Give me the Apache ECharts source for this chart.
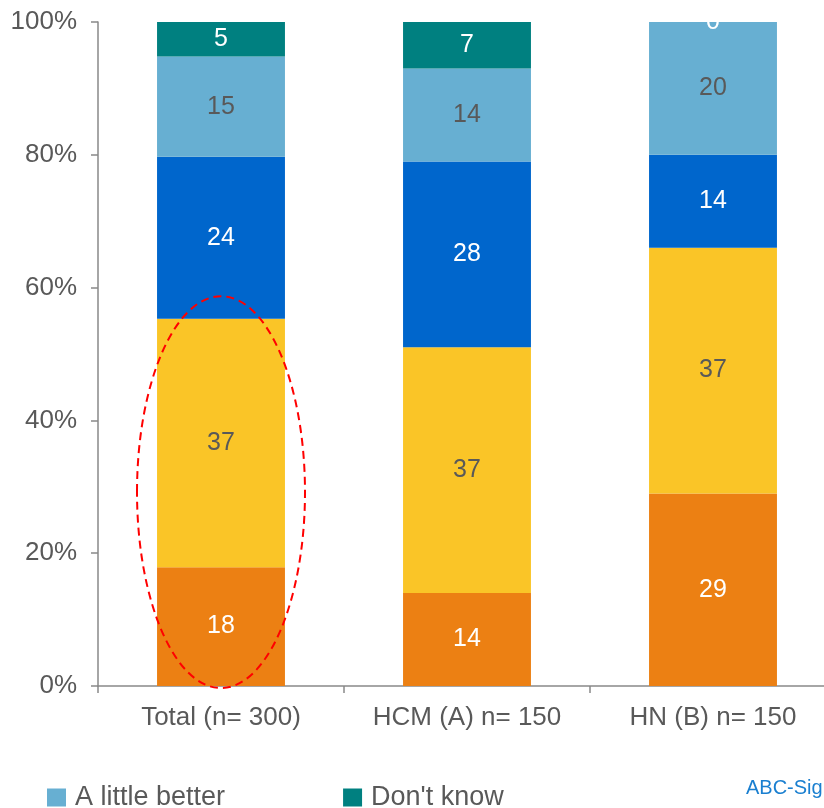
<!DOCTYPE html>
<html>
<head>
<meta charset="utf-8">
<script src="https://cdn.jsdelivr.net/npm/echarts@6/dist/echarts.min.js"></script>
<style>
  html, body { margin: 0; padding: 0; background: #fff; }
  #chart { width: 824px; height: 808px; }
</style>
</head>
<body>
<div id="chart"></div>
<script>
const categories = ['Total (n= 300)', 'HCM (A) n= 150', 'HN (B) n= 150'];

// bottom to top (percent of each bar)
const worse = [17.9, 14, 29];
const same = [37.4, 37, 37];
const muchBetter = [24.4, 28, 14];
const littleBetter = [15.1, 14, 20];
const dontKnow = [5.2, 7, 0];

const yTicks = [0, 20, 40, 60, 80, 100];

const FONT = 'Liberation Sans, Arial, sans-serif';
const GREY = '#595959';

const chart = echarts.init(document.getElementById('chart'));

function seg(name, data, color, labelColor) {
  return {
    name: name,
    type: 'bar',
    stack: 'all',
    data: data,
    barWidth: '52%',
    itemStyle: { color: color },
    label: {
      show: true,
      position: 'inside',
      color: labelColor,
      fontFamily: FONT,
      fontSize: 25,
      formatter: p => Math.round(p.value)
    }
  };
}

chart.setOption({
  animation: false,
  grid: { left: 98, top: 22, height: 664, width: 738, outerBoundsMode: 'none' },
  legend: {
    data: ['A little better', "Don't know"],
    left: 47,
    top: 784,
    padding: 0,
    icon: 'rect',
    itemWidth: 19,
    itemHeight: 18,
    itemGap: 118,
    textStyle: { color: GREY, fontFamily: FONT, fontSize: 27, padding: [0, 0, 0, 4] }
  },
  xAxis: {
    type: 'category',
    data: categories,
    axisLine: { lineStyle: { color: '#898989', width: 1.5 } },
    axisTick: { show: true, length: 7, lineStyle: { color: '#898989', width: 1.5 } },
    axisLabel: { color: GREY, fontFamily: FONT, fontSize: 26, margin: 19 }
  },
  yAxis: {
    type: 'value',
    min: yTicks[0],
    max: yTicks[yTicks.length - 1],
    interval: 20,
    axisLine: { show: true, lineStyle: { color: '#898989', width: 1.5 } },
    axisTick: { show: true, length: 7, lineStyle: { color: '#898989', width: 1.5 } },
    splitLine: { show: false },
    axisLabel: { color: GREY, fontFamily: FONT, fontSize: 26, margin: 21, formatter: '{value}%' }
  },
  series: [
    seg('Worse', worse, '#EC8013', '#ffffff'),
    seg('The same', same, '#FAC527', GREY),
    seg('Much better', muchBetter, '#0066CC', '#ffffff'),
    seg('A little better', littleBetter, '#67AFD2', GREY),
    seg("Don't know", dontKnow, '#008080', '#ffffff')
  ]
});

// dashed highlight around the lower part of the Total bar
const ellC = chart.convertToPixel({ gridIndex: 0 }, [0, 29.2]);
const ellTop = chart.convertToPixel({ gridIndex: 0 }, [0, 58.7]);
chart.setOption({
  graphic: [
    {
      type: 'ellipse',
      shape: { cx: ellC[0], cy: ellC[1], rx: 84, ry: ellC[1] - ellTop[1] },
      style: { fill: 'none', stroke: '#FF0000', lineWidth: 2, lineDash: [8, 5] },
      z: 100
    },
    {
      type: 'text',
      left: 746,
      top: 778,
      style: { text: 'ABC-Sigma', fill: '#1A7FD0', font: '20px ' + FONT }
    }
  ]
});
</script>
</body>
</html>
